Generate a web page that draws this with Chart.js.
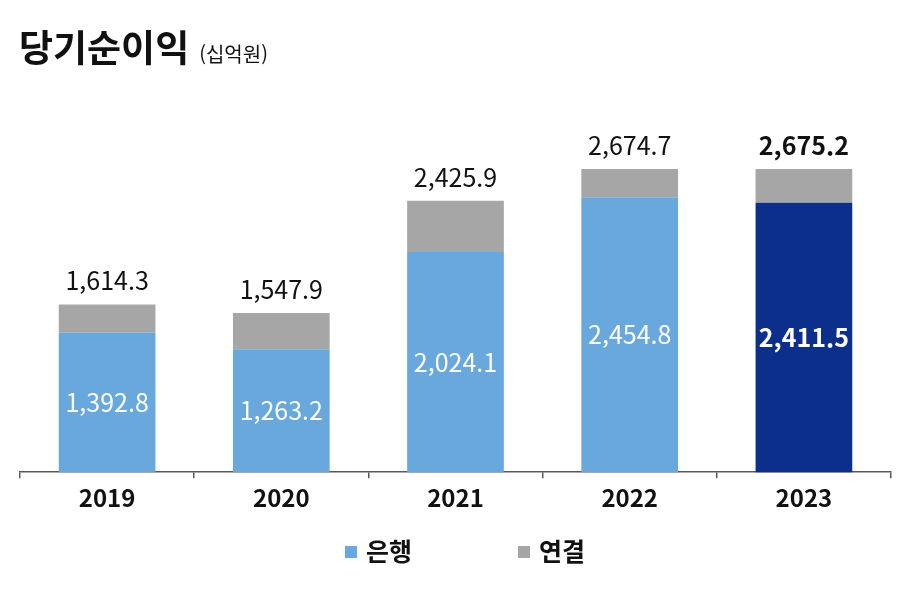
<!DOCTYPE html>
<html lang="ko">
<head>
<meta charset="utf-8">
<script src="https://cdn.jsdelivr.net/npm/chart.js@4"></script>
<style>
    html, body { margin: 0; padding: 0; background: #fff; }
    #wrap { position: relative; width: 900px; height: 594px; }
    #title { position: absolute; left: 19px; top: 19px; font-family: 'Noto Sans CJK KR', sans-serif; color: #111; white-space: nowrap; }
    #title b { font-size: 37px; font-weight: 700; }
    #title span { font-size: 20px; margin-left: 10px; }
    #legend { position: absolute; left: 0; top: 532px; width: 900px; font-family: 'Noto Sans CJK KR', sans-serif; font-weight: 700; font-size: 25px; color: #111; }
    .item { position: absolute; top: 0; display: flex; align-items: center; }
    .box { width: 12px; height: 12px; margin-right: 9px; margin-top: 3px; }
</style>
</head>
<body>
<div id="wrap">
    <canvas id="netIncomeChart" width="900" height="594"></canvas>
    <div id="title"><b>당기순이익</b><span>(십억원)</span></div>
    <div id="legend"></div>
</div>
<script>
// 연도별 당기순이익 (십억원)
const years = ['2019', '2020', '2021', '2022', '2023'];
const bankValues = [1392.8, 1263.2, 2024.1, 2454.8, 2411.5];
const totalValues = [1614.3, 1547.9, 2425.9, 2674.7, 2675.2];
const consolidatedValues = totalValues.map((t, i) => +(t - bankValues[i]).toFixed(1));
const seriesNames = ['은행', '연결'];

const FONT = "'Noto Sans CJK KR', sans-serif";
const BLUE = '#68a8dd';
const NAVY = '#0c2f8b';
const GRAY = '#a6a6a6';

const fmt = v => v.toLocaleString('en-US', { minimumFractionDigits: 1, maximumFractionDigits: 1 });

// value labels inside and above the bars
const valueLabels = {
    id: 'valueLabels',
    afterDatasetsDraw(chart) {
        const { ctx, chartArea } = chart;
        const last = years.length - 1;
        ctx.save();
        ctx.textAlign = 'center';

        chart.getDatasetMeta(0).data.forEach((bar, i) => {
            // visible part of the bank segment (axis starts above zero)
            const bottom = Math.min(bar.base, chartArea.bottom);
            ctx.fillStyle = '#fff';
            ctx.textBaseline = 'middle';
            ctx.font = (i === last ? '700 25px ' : '400 25px ') + FONT;
            ctx.fillText(fmt(bankValues[i]), bar.x, (bar.y + bottom) / 2);
        });

        chart.getDatasetMeta(1).data.forEach((bar, i) => {
            ctx.fillStyle = '#111';
            ctx.textBaseline = 'alphabetic';
            ctx.font = (i === last ? '700 25px ' : '400 25px ') + FONT;
            ctx.fillText(fmt(totalValues[i]), bar.x, bar.y - 14);
        });
        ctx.restore();
    }
};

const chart = new Chart(document.getElementById('netIncomeChart'), {
    type: 'bar',
    data: {
        labels: years,
        datasets: [{
            label: seriesNames[0],
            data: bankValues,
            backgroundColor: years.map((y, i) => i === years.length - 1 ? NAVY : BLUE),
            borderWidth: 0,
            barPercentage: 0.555,
            categoryPercentage: 1
        }, {
            label: seriesNames[1],
            data: consolidatedValues,
            backgroundColor: GRAY,
            borderWidth: 0,
            barPercentage: 0.555,
            categoryPercentage: 1
        }]
    },
    options: {
        responsive: false,
        animation: false,
        layout: { padding: { top: 102, left: 20, right: 9, bottom: 77 } },
        plugins: {
            legend: { display: false },
            title: { display: false },
            tooltip: { enabled: false }
        },
        scales: {
            x: {
                stacked: true,
                grid: {
                    offset: true,
                    drawOnChartArea: false,
                    drawTicks: true,
                    tickLength: 6,
                    color: '#595959',
                    lineWidth: 1.5
                },
                border: { color: '#595959', width: 1.5 },
                ticks: {
                    color: '#111',
                    padding: 5,
                    font: { family: FONT, size: 24, weight: '700' }
                }
            },
            y: {
                stacked: true,
                display: false,
                min: 300,
                max: 3200
            }
        }
    },
    plugins: [valueLabels]
});

// legend built from the dataset colours
const legendEl = document.getElementById('legend');
const legendX = [345, 518];
chart.data.datasets.forEach((ds, i) => {
    const item = document.createElement('div');
    item.className = 'item';
    item.style.left = legendX[i] + 'px';
    const box = document.createElement('div');
    box.className = 'box';
    box.style.background = i === 0 ? BLUE : GRAY;
    item.appendChild(box);
    item.appendChild(document.createTextNode(ds.label));
    legendEl.appendChild(item);
});
</script>
</body>
</html>
